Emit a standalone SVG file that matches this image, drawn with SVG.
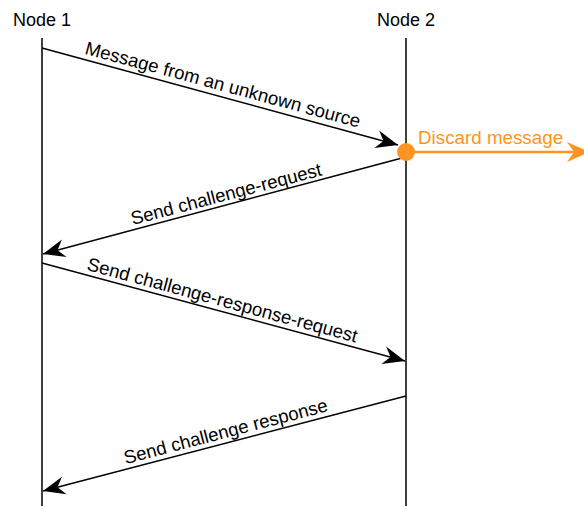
<svg xmlns="http://www.w3.org/2000/svg" width="584" height="506" viewBox="0 0 584 506">
  <style>
    text { font-family: "Liberation Sans", Arial, sans-serif; font-size: 18px; fill: #000; }
    .life { stroke: #000; stroke-width: 1.5; fill: none; }
    .msg { stroke: #000; stroke-width: 1.5; fill: none; marker-end: url(#arrow); }
    .lbl { text-anchor: middle; }
    .edge { font-size: 18.6px; }
    .orange { fill: #FF9422; }
  </style>
  <defs>
    <marker id="arrow" viewBox="-23 -10 24 20" refX="0" refY="0" markerWidth="24" markerHeight="20" markerUnits="userSpaceOnUse" orient="auto">
      <path d="M0,0 L-22,-9 L-15,0 L-22,9 Z" fill="#000"/>
    </marker>
    <marker id="arrowOrange" viewBox="-24 -11 25 22" refX="0" refY="0" markerWidth="25" markerHeight="22" markerUnits="userSpaceOnUse" orient="auto">
      <path d="M0,0 L-23,-10 L-16,0 L-23,10 Z" fill="#FF9422"/>
    </marker>
  </defs>

  <!-- participants with their lifelines -->
  <g id="node1">
    <text x="42" y="26" class="lbl">Node 1</text>
    <line x1="42" y1="38" x2="42" y2="506" class="life"/>
  </g>
  <g id="node2">
    <text x="406" y="26" class="lbl">Node 2</text>
    <line x1="406" y1="38" x2="406" y2="506" class="life"/>
  </g>

  <!-- messages exchanged between the nodes -->
  <g id="connectors">
    <line x1="42" y1="48" x2="398" y2="145" class="msg"/>
    <line x1="402" y1="158" x2="43" y2="254" class="msg"/>
    <line x1="42" y1="263" x2="405" y2="361" class="msg"/>
    <line x1="406" y1="396" x2="43" y2="491" class="msg"/>
    <line x1="406" y1="152" x2="590" y2="152" stroke="#FF9422" stroke-width="2.5" marker-end="url(#arrowOrange)"/>
  </g>

  <!-- message labels, set along each connector -->
  <g id="labels">
    <text class="lbl edge" transform="translate(220,95.5) rotate(15.1)" y="-5">Message from an unknown source</text>
    <text class="lbl edge" transform="translate(229,205) rotate(-14.7)" y="-5">Send challenge-request</text>
    <text class="lbl edge" transform="translate(219.5,311) rotate(15.1)" y="-5">Send challenge-response-request</text>
    <text class="lbl edge" transform="translate(228.5,442.4) rotate(-14.7)" y="-5">Send challenge response</text>
  </g>

  <!-- discard point on Node 2 -->
  <g id="discard">
    <circle cx="406" cy="152" r="9" class="orange"/>
    <text x="418" y="144" class="orange" style="font-size:18.8px">Discard message</text>
  </g>
</svg>
